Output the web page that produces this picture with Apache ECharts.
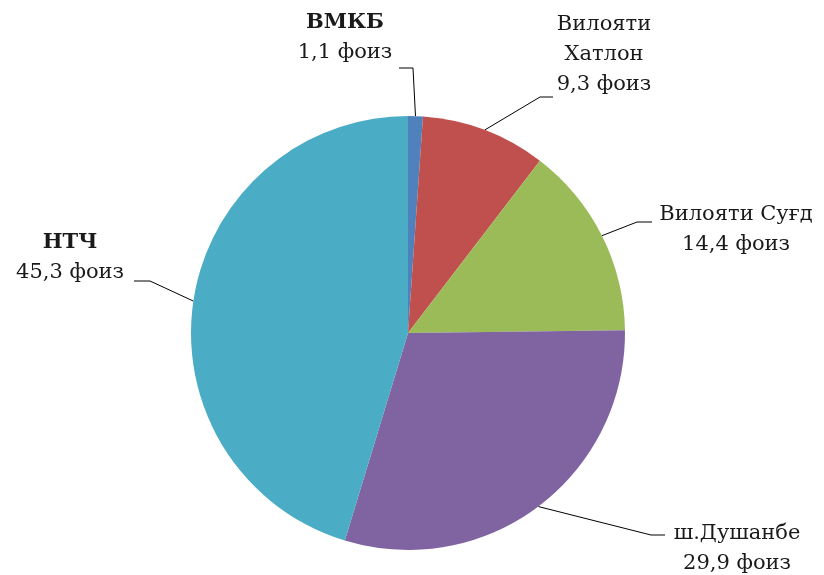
<!DOCTYPE html>
<html>
<head>
<meta charset="utf-8">
<script src="https://cdn.jsdelivr.net/npm/echarts@6/dist/echarts.min.js"></script>
<style>
  html, body { margin: 0; padding: 0; background: #fff; }
  #chart { width: 824px; height: 575px; }
</style>
</head>
<body>
<div id="chart"></div>
<script>
const regions = ['ВМКБ', 'Вилояти\nХатлон', 'Вилояти Суғд', 'ш.Душанбе', 'НТЧ']
const shares = [1.1, 9.3, 14.4, 29.9, 45.3]
const boldName = [true, false, false, false, true]
const COLORS = ['#4F81BD', '#C0504D', '#9BBB59', '#8064A2', '#4BACC6']

// label centres and leader line bends (px)
const labelPos = [[345, 38], [604, 55], [736, 230], [737, 549], [70, 258]]
const linePts = [
  [[413, 68], [399, 68]],
  [[540, 97], [553, 97]],
  [[637, 222], [652, 222]],
  [[651, 535], [665, 535]],
  [[150, 281], [134, 281]]
]

const chart = echarts.init(document.getElementById('chart'))

const fmt = v => String(v).replace('.', ',')

chart.setOption({
  animation: false,
  color: COLORS,
  series: [{
    type: 'pie',
    center: [408, 333],
    radius: 217,
    startAngle: 90,
    clockwise: true,
    avoidLabelOverlap: false,
    data: regions.map((r, i) => ({
      name: r,
      value: shares[i],
      label: {
        formatter: (boldName[i] ? '{b|' : '{n|') + r.split('\n').join('}\n' + (boldName[i] ? '{b|' : '{n|')) + '}\n{n|' + fmt(shares[i]) + ' фоиз}'
      }
    })),
    label: {
      show: true,
      position: 'outside',
      align: 'center',
      rich: {
        n: { fontFamily: 'DejaVu Serif', fontSize: 21, color: '#1a1a1a', lineHeight: 30, align: 'center' },
        b: { fontFamily: 'DejaVu Serif', fontSize: 21, fontWeight: 'bold', color: '#1a1a1a', lineHeight: 30, align: 'center' }
      }
    },
    labelLine: {
      show: true,
      lineStyle: { color: '#000', width: 1 }
    },
    labelLayout: params => {
      const i = params.dataIndex
      const p0 = params.labelLinePoints ? params.labelLinePoints[0] : null
      return {
        x: labelPos[i][0],
        y: labelPos[i][1],
        align: 'center',
        verticalAlign: 'middle',
        labelLinePoints: p0 ? [p0, linePts[i][0], linePts[i][1]] : undefined
      }
    },
    itemStyle: { borderWidth: 0 },
    emphasis: { disabled: true }
  }]
})
</script>
</body>
</html>
